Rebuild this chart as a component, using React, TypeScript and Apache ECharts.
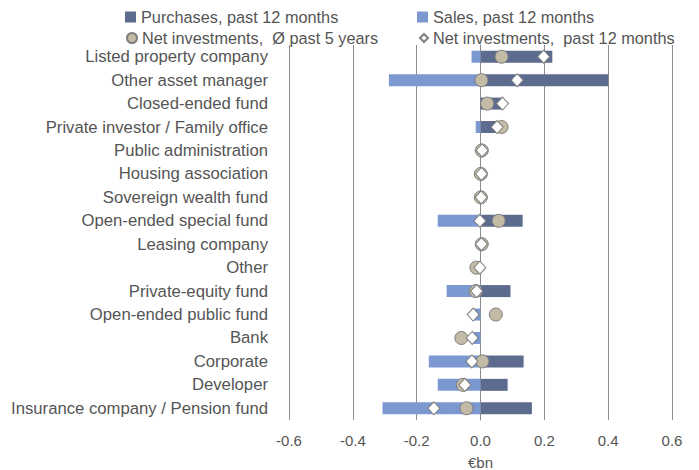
import React, { useEffect, useRef } from "react";
import * as echarts from "echarts";

const categories = [
  "Listed property company",
  "Other asset manager",
  "Closed-ended fund",
  "Private investor / Family office",
  "Public administration",
  "Housing association",
  "Sovereign wealth fund",
  "Open-ended special fund",
  "Leasing company",
  "Other",
  "Private-equity fund",
  "Open-ended public fund",
  "Bank",
  "Corporate",
  "Developer",
  "Insurance company / Pension fund",
];

const purchases = [0.225, 0.4, 0.069, 0.067, 0.005, 0.003, 0.002, 0.132, 0.003, 0, 0.094, 0, 0, 0.135, 0.085, 0.161];
const sales = [-0.028, -0.287, 0, -0.015, 0, 0, 0, -0.134, 0, -0.002, -0.106, -0.023, -0.026, -0.162, -0.134, -0.307];
const netAvg5y = [0.066, 0.003, 0.021, 0.066, 0.004, 0.001, 0.001, 0.057, 0.004, -0.013, -0.015, 0.048, -0.06, 0.006, -0.055, -0.044];
const net12m = [0.198, 0.115, 0.069, 0.052, 0.005, 0.003, 0.002, -0.002, 0.003, -0.002, -0.012, -0.023, -0.026, -0.027, -0.049, -0.146];

const seriesNames = [
  "Purchases, past 12 months",
  "Sales, past 12 months",
  "Net investments,  Ø past 5 years",
  "Net investments,  past 12 months",
];

const FONT = "'Liberation Sans', Arial, sans-serif";
const TEXT = "#555555";
const GRID = "#8c8c8c";

export default function App() {
  const ref = useRef<HTMLDivElement>(null);
  useEffect(() => {
    document.body.style.margin = "0";
    const chart = echarts.init(ref.current!, null, { renderer: "svg" });
    const legendBase = {
      padding: 0,
      itemWidth: 11,
      itemHeight: 11,
      textStyle: { color: TEXT, fontSize: 16.3, fontFamily: FONT },
    };
    chart.setOption({
      animation: false,
      textStyle: { fontFamily: FONT },
      legend: [
        { ...legendBase, data: [{ name: seriesNames[0], icon: "rect" }], left: 125, top: 9 },
        { ...legendBase, data: [{ name: seriesNames[1], icon: "rect" }], left: 417, top: 9 },
        { ...legendBase, itemWidth: 10, itemHeight: 10, data: [{ name: seriesNames[2], icon: "circle" }], left: 126, top: 30 },
        { ...legendBase, itemWidth: 8, itemHeight: 8, data: [{ name: seriesNames[3], icon: "diamond" }], left: 419, top: 30 },
      ],
      grid: { left: 289, right: 27, top: 45, bottom: 50, outerBoundsMode: "none", containLabel: false },
      xAxis: {
        type: "value",
        min: -0.6,
        max: 0.6,
        interval: 0.2,
        name: "€bn",
        nameLocation: "middle",
        nameGap: 35,
        nameTextStyle: { color: TEXT, fontSize: 15, fontFamily: FONT },
        axisLine: { show: false },
        axisTick: { show: false },
        axisLabel: {
          color: TEXT,
          fontSize: 15,
          fontFamily: FONT,
          margin: 13,
          formatter: (v: number) => v.toFixed(1),
        },
        splitLine: { show: true, lineStyle: { color: GRID, width: 1 } },
      },
      yAxis: {
        type: "category",
        data: categories,
        inverse: true,
        axisLine: { show: true, lineStyle: { color: GRID } },
        axisTick: { show: false },
        axisLabel: { color: TEXT, fontSize: 16.7, fontFamily: FONT, margin: 21 },
        splitLine: { show: false },
      },
      series: [
        {
          name: seriesNames[0],
          type: "bar",
          stack: "flow",
          data: purchases,
          barWidth: 12,
          itemStyle: { color: "#5d6b8e" },
          z: 2,
        },
        {
          name: seriesNames[1],
          type: "bar",
          stack: "flow",
          data: sales,
          barWidth: 12,
          itemStyle: { color: "#7b98d0" },
          z: 2,
        },
        {
          name: seriesNames[2],
          type: "scatter",
          data: netAvg5y,
          symbol: "circle",
          symbolSize: 13,
          itemStyle: { color: "#c3bba5", borderColor: "#7f7f7f", borderWidth: 1, opacity: 1 },
          z: 3,
        },
        {
          name: seriesNames[3],
          type: "scatter",
          data: net12m,
          symbol: "diamond",
          symbolSize: [12, 13],
          itemStyle: { color: "#ffffff", borderColor: "#7f7f7f", borderWidth: 1, opacity: 1 },
          z: 4,
        },
      ],
    });
    return () => chart.dispose();
  }, []);
  return <div ref={ref} style={{ width: 699, height: 470 }} />;
}
